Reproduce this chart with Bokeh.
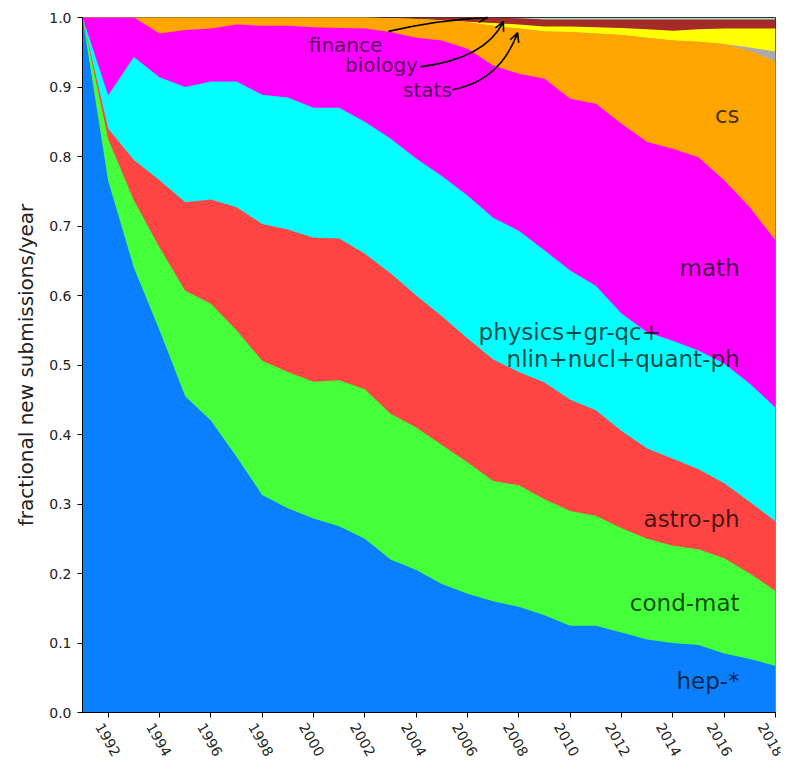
import math
from bokeh.plotting import figure
from bokeh.layouts import column
from bokeh.models import ColumnDataSource, Range1d, FixedTicker, Label, Arrow, OpenHead
from bokeh.transform import stack
from bokeh.core.properties import value
from bokeh.embed import file_html
from bokeh.resources import INLINE

years = list(range(1991, 2019))

hep = [1.0, 0.765, 0.64, 0.55, 0.455, 0.42, 0.368, 0.313, 0.294, 0.279, 0.268, 0.25, 0.22, 0.205,
       0.185, 0.171, 0.16, 0.152, 0.14, 0.125, 0.125, 0.115, 0.105, 0.1, 0.097, 0.085, 0.077, 0.067]
cond_mat = [0.0, 0.06, 0.097, 0.119, 0.152, 0.168, 0.182, 0.193, 0.196, 0.197, 0.21, 0.215, 0.21, 0.205,
            0.2, 0.189, 0.173, 0.175, 0.167, 0.165, 0.158, 0.15, 0.145, 0.14, 0.138, 0.137, 0.123, 0.108]
astro_ph = [0.0, 0.015, 0.058, 0.097, 0.127, 0.15, 0.177, 0.197, 0.205, 0.207, 0.204, 0.195, 0.202, 0.19,
            0.185, 0.178, 0.175, 0.163, 0.168, 0.16, 0.152, 0.14, 0.13, 0.125, 0.115, 0.108, 0.103, 0.1]
physics = [0.0, 0.048, 0.148, 0.148, 0.166, 0.17, 0.181, 0.186, 0.19, 0.187, 0.188, 0.19, 0.194, 0.197,
           0.202, 0.206, 0.204, 0.203, 0.19, 0.186, 0.179, 0.169, 0.167, 0.17, 0.171, 0.172, 0.17, 0.164]
math_ = [0.0, 0.112, 0.057, 0.063, 0.082, 0.076, 0.082, 0.099, 0.103, 0.116, 0.115, 0.134, 0.153, 0.174,
         0.195, 0.211, 0.219, 0.226, 0.247, 0.247, 0.262, 0.273, 0.274, 0.276, 0.278, 0.264, 0.254, 0.24]
cs = [0.0, 0.0, 0.0, 0.023, 0.018, 0.016, 0.01, 0.012, 0.012, 0.014, 0.015, 0.016, 0.02, 0.027,
      0.029, 0.038, 0.057, 0.065, 0.068, 0.096, 0.101, 0.128, 0.15, 0.156, 0.166, 0.196, 0.225, 0.258]
eess = [0.0] * 26 + [0.005, 0.014]
stats = [0.0] * 15 + [0.001, 0.004, 0.006, 0.007, 0.008, 0.009, 0.01, 0.012, 0.014, 0.018, 0.022, 0.027, 0.033]
biology = [0.0] * 12 + [0.001, 0.002, 0.004, 0.006, 0.008, 0.009, 0.01, 0.01, 0.011, 0.012, 0.014, 0.016,
                        0.014, 0.013, 0.013, 0.013]
finance = [0.0] * 17 + [0.001, 0.003, 0.003, 0.003, 0.003, 0.003, 0.003, 0.003, 0.003, 0.003, 0.003]

layer_names = ["hep", "cond_mat", "astro_ph", "physics", "math", "cs", "eess", "stats", "biology", "finance"]
layer_colors = ["#0a80ff", "#44ff3a", "#ff4444", "#00ffff", "#ff00ff", "#ffa500",
                "#aaaaaa", "#ffff00", "#a52a2a", "#b0dcc8"]

x_ticks = list(range(1992, 2019, 2))
x_tick_labels = [str(t) for t in x_ticks]
y_ticks = [i / 10 for i in range(11)]

region_labels = [
    ("cs", 2016.6, 0.859, "right"),
    ("math", 2016.6, 0.640, "right"),
    ("physics+gr-qc+", 2006.43, 0.548, "left"),
    ("nlin+nucl+quant-ph", 2016.6, 0.508, "right"),
    ("astro-ph", 2016.6, 0.278, "right"),
    ("cond-mat", 2016.6, 0.157, "right"),
    ("hep-*", 2016.6, 0.046, "right"),
]

# annotation: text, text pos, arrow start, control point, arrow end
annotations = [
    ("finance", (2001.25, 0.961), (2002.92, 0.980), (2004.95, 0.997), (2006.78, 1.0)),
    ("biology", (2002.65, 0.931), (2004.17, 0.929), (2006.70, 0.941), (2007.40, 0.994)),
    ("stats", (2004.44, 0.896), (2005.41, 0.896), (2007.28, 0.909), (2007.95, 0.978)),
]

data = dict(year=years, hep=hep, cond_mat=cond_mat, astro_ph=astro_ph, physics=physics,
            math=math_, cs=cs, eess=eess, stats=stats, biology=biology, finance=finance)
source = ColumnDataSource(data)

LEFT = 82
RIGHT = 15
FRAME_W = 693
TOTAL_W = LEFT + FRAME_W + RIGHT
PX_PER_YEAR = FRAME_W / (2018 - 1991)
BOTTOM = 8

p = figure(width=TOTAL_W, height=17 + 695 + BOTTOM, x_range=Range1d(1991, 2018), y_range=Range1d(0, 1),
           output_backend="svg", toolbar_location=None,
           min_border_left=LEFT, min_border_right=RIGHT, min_border_top=17, min_border_bottom=BOTTOM)
p.background_fill_color = "white"
p.border_fill_color = "white"
p.outline_line_color = "black"
p.outline_line_width = 1
p.grid.visible = False

# draw cumulative areas from the top layer down so there are no seams
for k in range(len(layer_names) - 1, -1, -1):
    p.varea(x="year", y1=0, y2=stack(*layer_names[:k + 1]), source=source,
            fill_color=layer_colors[k], fill_alpha=1.0)

for ax in (p.xaxis, p.yaxis):
    ax.axis_line_color = "black"
    ax.major_tick_line_color = "black"
    ax.major_tick_out = 5
    ax.major_tick_in = 0
    ax.minor_tick_line_color = None
    ax.major_label_text_font = "DejaVu Sans"
    ax.major_label_text_font_size = "14px"
    ax.major_label_text_color = "#222222"

# x axis keeps only its ticks here; the rotated year labels sit in the strip below
p.xaxis.ticker = FixedTicker(ticks=x_ticks)
p.xaxis.major_label_overrides = {t: "" for t in x_ticks}
p.xaxis.major_label_standoff = 0

p.yaxis.ticker = FixedTicker(ticks=y_ticks)
p.yaxis.major_label_overrides = {t: f"{t:.1f}" for t in y_ticks}
p.yaxis.major_label_standoff = 6
p.yaxis.axis_label = "fractional new submissions/year"
p.yaxis.axis_label_text_font = "DejaVu Sans"
p.yaxis.axis_label_text_font_size = "20px"
p.yaxis.axis_label_text_font_style = "normal"
p.yaxis.axis_label_text_color = "#222222"
p.yaxis.axis_label_standoff = 8

for txt, x, y, align in region_labels:
    p.add_layout(Label(x=x, y=y, text=txt, text_align=align, text_baseline="middle",
                       text_font="DejaVu Sans", text_font_size="23px",
                       text_color="black", text_alpha=0.72))

for txt, (tx, ty), (x0, y0), (cx, cy), (x1, y1) in annotations:
    p.add_layout(Label(x=tx, y=ty, text=txt, text_align="center", text_baseline="middle",
                       text_font="DejaVu Sans", text_font_size="20px",
                       text_color="black", text_alpha=0.7))
    p.quadratic(x0=[x0], y0=[y0], x1=[x1], y1=[y1], cx=[cx], cy=[cy],
                line_color="black", line_width=1.6)
    sx = x1 + 0.12 * (cx - x1)
    sy = y1 + 0.12 * (cy - y1)
    p.add_layout(Arrow(end=OpenHead(size=9, line_width=1.6, line_color="black"),
                       x_start=sx, y_start=sy, x_end=x1, y_end=y1,
                       line_color="black", line_width=1.6))

# strip below the plot holding the rotated year labels (same pixels per year)
STRIP_W = 795
STRIP_H = 48
STRIP_RIGHT = 10
strip_frame_w = STRIP_W - LEFT - STRIP_RIGHT
xr2 = Range1d(1991, 1991 + strip_frame_w / PX_PER_YEAR)
p2 = figure(width=STRIP_W, height=STRIP_H, x_range=xr2, y_range=Range1d(-STRIP_H, 0),
            output_backend="svg", toolbar_location=None,
            x_axis_location=None, y_axis_location=None,
            min_border_left=LEFT, min_border_right=STRIP_RIGHT, min_border_top=1, min_border_bottom=1)
p2.outline_line_color = None
p2.grid.visible = False
p2.background_fill_color = "white"
p2.border_fill_color = "white"
p2.text(x=x_ticks, y=[-19] * len(x_ticks), text=x_tick_labels, angle=-math.pi / 3,
        text_align="center", text_baseline="middle",
        text_font=value("DejaVu Sans"), text_font_size="14px", text_color="#222222")

layout = column(p, p2, spacing=0)
open("out.html", "w").write(file_html(layout, INLINE))
